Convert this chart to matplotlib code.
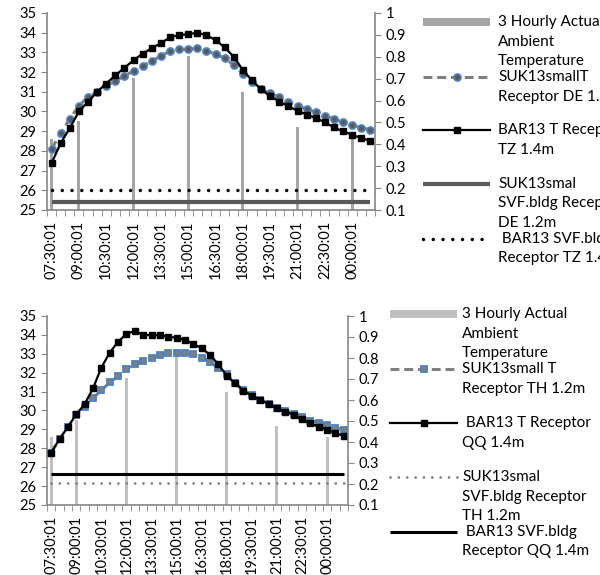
import numpy as np
import matplotlib.pyplot as plt
from matplotlib.lines import Line2D
from matplotlib.patches import Rectangle

plt.rcParams['font.family'] = ['Lato', 'DejaVu Sans']
plt.rcParams['font.size'] = 10.5

# half-hourly categories 07:30:01 .. 01:00:01
times = ['07:30:01', '08:00:01', '08:30:01', '09:00:01', '09:30:01', '10:00:01',
         '10:30:01', '11:00:01', '11:30:01', '12:00:01', '12:30:01', '13:00:01',
         '13:30:01', '14:00:01', '14:30:01', '15:00:01', '15:30:01', '16:00:01',
         '16:30:01', '17:00:01', '17:30:01', '18:00:01', '18:30:01', '19:00:01',
         '19:30:01', '20:00:01', '20:30:01', '21:00:01', '21:30:01', '22:00:01',
         '22:30:01', '23:00:01', '23:30:01', '00:00:01', '00:30:01', '01:00:01']

# 3 hourly actual ambient temperature (same station for both charts)
bar_times = ['07:30:01', '09:00:01', '12:00:01', '15:00:01', '18:00:01', '21:00:01', '00:00:01']
bar_top = [28.6, 29.5, 31.7, 32.8, 31.0, 29.2, 28.6]
bar_bot = [28.6, 29.5, 31.7, 32.9, 31.0, 29.2, 28.6]

# top chart: DE / TZ receptors
suk_de = [28.1, 28.89, 29.62, 30.29, 30.75, 31.0, 31.29, 31.56, 31.8, 32.06, 32.31, 32.56,
          32.82, 33.07, 33.16, 33.16, 33.21, 33.07, 32.92, 32.7, 32.36, 31.9, 31.48, 31.13,
          30.92, 30.72, 30.5, 30.28, 30.13, 29.96, 29.79, 29.62, 29.45, 29.31, 29.18, 29.06]
bar_tz = [27.37, 28.39, 29.16, 30.0, 30.49, 31.0, 31.42, 31.83, 32.22, 32.6, 32.94, 33.21,
          33.47, 33.76, 33.88, 33.92, 34.0, 33.87, 33.63, 33.25, 32.78, 32.1, 31.58, 31.12,
          30.78, 30.5, 30.26, 30.04, 29.84, 29.67, 29.45, 29.19, 28.99, 28.82, 28.65, 28.51]
svf_suk_de = 0.135
svf_bar_tz = 0.19

# bottom chart: TH / QQ receptors
suk_th = [27.77, 28.49, 29.13, 29.77, 30.21, 30.66, 31.06, 31.49, 31.8, 32.21, 32.45, 32.62,
          32.78, 32.94, 33.02, 33.03, 33.04, 32.97, 32.8, 32.58, 32.23, 31.91, 31.45, 31.08,
          30.8, 30.58, 30.36, 30.15, 29.99, 29.82, 29.64, 29.47, 29.35, 29.22, 29.1, 28.97]
bar_qq = [27.77, 28.49, 29.13, 29.8, 30.33, 31.17, 32.27, 33.06, 33.64, 34.05, 34.21, 33.99,
          33.99, 33.99, 33.91, 33.84, 33.73, 33.52, 33.29, 32.94, 32.44, 31.83, 31.44, 31.05,
          30.78, 30.56, 30.34, 30.11, 29.94, 29.76, 29.53, 29.32, 29.14, 28.97, 28.79, 28.67]
svf_suk_th = 0.2035
svf_bar_qq = 0.2476

left_ticks = [25, 26, 27, 28, 29, 30, 31, 32, 33, 34, 35]
right_ticks = [0.1, 0.2, 0.3, 0.4, 0.5, 0.6, 0.7, 0.8, 0.9, 1]
right_labels = ['0.1', '0.2', '0.3', '0.4', '0.5', '0.6', '0.7', '0.8', '0.9', '1']

legend_top = [['3 Hourly Actual', 'Ambient', 'Temperature'],
              ['SUK13smallT', 'Receptor DE 1.2m'],
              ['BAR13 T Receptor', 'TZ 1.4m'],
              ['SUK13smal', 'SVF.bldg Receptor', 'DE 1.2m'],
              [' BAR13 SVF.bldg', 'Receptor TZ 1.4m']]
legend_bot = [['3 Hourly Actual', 'Ambient', 'Temperature'],
              ['SUK13small T', 'Receptor TH 1.2m'],
              [' BAR13 T Receptor', 'QQ 1.4m'],
              ['SUK13smal', 'SVF.bldg Receptor', 'TH 1.2m'],
              [' BAR13 SVF.bldg', 'Receptor QQ 1.4m']]

W, H = 600, 575
AXIS_GREY = '#868686'
BLUE = '#4F81BD'


def style_axes(ax, ax2):
    ax.set_ylim(25, 35)
    ax.set_yticks(left_ticks)
    ax.set_xlim(-0.5, len(times) - 0.5)
    ax.set_xticks(range(0, len(times) - 2, 3))
    ax.set_xticklabels(times[0:len(times) - 2:3], rotation=90)
    ax.set_xticks(np.arange(-0.5, len(times), 1), minor=True)
    ax.tick_params(axis='x', which='major', length=0, pad=8)
    ax.tick_params(axis='x', which='minor', length=4, color=AXIS_GREY)
    ax.tick_params(axis='y', length=4, color=AXIS_GREY)
    ax2.set_ylim(0.1, 1)
    ax2.set_yticks(right_ticks)
    ax2.set_yticklabels(right_labels)
    ax2.tick_params(axis='y', length=4, color=AXIS_GREY)
    for a in (ax, ax2):
        a.spines['top'].set_visible(False)
        for s in ('left', 'right', 'bottom'):
            a.spines[s].set_color(AXIS_GREY)
            a.spines[s].set_linewidth(1.2)
    ax.spines['right'].set_visible(False)
    ax2.spines['left'].set_visible(False)
    ax2.spines['bottom'].set_visible(False)


def fig_line(fig, x0, x1, y, **kw):
    fig.add_artist(Line2D([x0 / W, x1 / W], [1 - y / H, 1 - y / H],
                          transform=fig.transFigure, **kw))


def draw_legend(fig, entries, rows, hx0, hx1, tx, bar_color, handles):
    for lines, y in zip(entries, rows):
        for k, txt in enumerate(lines):
            fig.text(tx / W, 1 - (y + k * 19.5) / H, txt, va='center', ha='left', fontsize=11)
    y = rows[0]
    fig.add_artist(Rectangle((hx0 / W, 1 - (y + 4) / H), (hx1 - hx0) / W, 8 / H,
                             transform=fig.transFigure, color=bar_color, lw=0))
    for style, y in zip(handles, rows[1:]):
        marker = style.pop('marker', None)
        mkw = {k: style.pop(k) for k in list(style) if k.startswith('m')}
        fig_line(fig, hx0, hx1, y, **style)
        if marker:
            fig.add_artist(Line2D([(hx0 + hx1) / 2 / W], [1 - y / H], transform=fig.transFigure,
                                  marker=marker, linestyle='none', **mkw))


fig = plt.figure(figsize=(W / 100, H / 100), dpi=100)
x = np.arange(len(times))
bar_top_x = [times.index(t) for t in bar_times]

# ---- top chart
ax = fig.add_axes([47 / W, 1 - 210 / H, (375 - 47) / W, 197 / H])
ax2 = ax.twinx()
ax.bar(bar_top_x, bar_top, width=0.35, color='#A5A5A5', zorder=1)
ax.plot(x, suk_de, color='#7F7F7F', lw=2.2, linestyle=(0, (2.9, 1.6)),
        marker='o', markersize=5, mfc='#595959', mec=BLUE, mew=1.3, zorder=3)
ax.plot(x, bar_tz, color='black', lw=1.6, marker='s', markersize=5, zorder=4)
ax2.plot(x, [svf_suk_de] * len(x), color='#595959', lw=3, solid_capstyle='butt')
ax2.plot(x, [svf_bar_tz] * len(x), color='black', lw=2.5,
         linestyle=(0, (0.01, 2.8)), dash_capstyle='round')
style_axes(ax, ax2)

draw_legend(fig, legend_top, [22, 77, 130, 184, 239], 423, 490, 498, '#A5A5A5', [
    dict(color='#7F7F7F', lw=2.2, linestyle=(0, (2.9, 1.6)), marker='o',
         markersize=5, mfc='#595959', mec=BLUE, mew=1.3),
    dict(color='black', lw=1.6, marker='s', markersize=5, mfc='black', mec='black'),
    dict(color='#595959', lw=3, solid_capstyle='butt'),
    dict(color='black', lw=2.5, linestyle=(0, (0.01, 2.8)), dash_capstyle='round'),
])

# ---- bottom chart
bx = fig.add_axes([47 / W, 1 - 505 / H, (348 - 47) / W, 189 / H])
bx2 = bx.twinx()
bx.bar(bar_top_x, bar_bot, width=0.35, color='#BFBFBF', zorder=1)
bx.plot(x, suk_th, color='#7F7F7F', lw=2.2, linestyle=(0, (2.9, 1.6)),
        marker='s', markersize=5, mfc='#7F7F7F', mec=BLUE, mew=1.3, zorder=3)
bx.plot(x, bar_qq, color='black', lw=1.6, marker='s', markersize=5, zorder=4)
bx2.plot(x, [svf_suk_th] * len(x), color='#7F7F7F', lw=2,
         linestyle=(0, (0.01, 3.0)), dash_capstyle='round')
bx2.plot(x, [svf_bar_qq] * len(x), color='black', lw=2.2, solid_capstyle='butt')
style_axes(bx, bx2)

draw_legend(fig, legend_bot, [314, 369, 423, 477, 532], 390, 457, 462, '#BFBFBF', [
    dict(color='#7F7F7F', lw=2.2, linestyle=(0, (2.9, 1.6)), marker='s',
         markersize=5, mfc='#7F7F7F', mec=BLUE, mew=1.3),
    dict(color='black', lw=1.6, marker='s', markersize=5, mfc='black', mec='black'),
    dict(color='#7F7F7F', lw=2, linestyle=(0, (0.01, 3.0)), dash_capstyle='round'),
    dict(color='black', lw=2.2, solid_capstyle='butt'),
])

fig.savefig('out.png', dpi=100)
